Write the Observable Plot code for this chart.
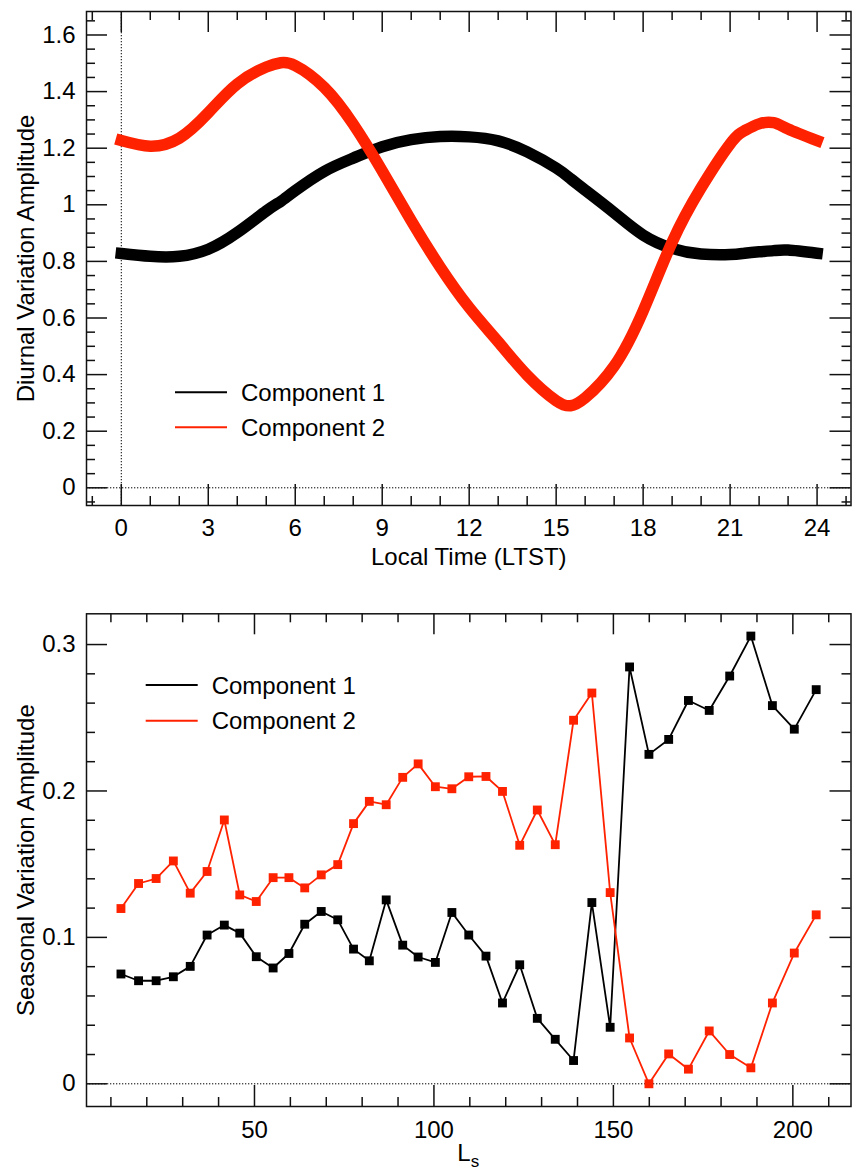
<!DOCTYPE html>
<html><head><meta charset="utf-8">
<script src="https://cdn.jsdelivr.net/npm/d3@7"></script>
<script src="https://cdn.jsdelivr.net/npm/@observablehq/plot@0.6"></script>
<style>
body{margin:0;background:#fff;}
#chart{width:852px;}
#chart svg{display:block;}
</style></head><body><div id="chart"></div>
<script>
// ---------- Data: top panel (diurnal) ----------
const hours = [0,1,2,3,4,5,5.5,6,7,8,9,10,11,12,13,14,15,15.5,16,17,18,19,20,21,21.5,22,22.5,23,24];
const diurnalC1 = [0.828,0.818,0.818,0.843,0.902,0.978,1.012,1.050,1.118,1.165,1.205,1.230,1.241,1.240,1.226,1.187,1.130,1.092,1.052,0.972,0.893,0.846,0.826,0.824,0.829,0.834,0.838,0.840,0.829];
const diurnalC2 = [1.227,1.207,1.235,1.325,1.427,1.487,1.502,1.492,1.415,1.285,1.120,0.944,0.780,0.637,0.516,0.398,0.308,0.290,0.318,0.430,0.625,0.868,1.060,1.215,1.262,1.286,1.290,1.268,1.227];
const hourTicks = [0,3,6,9,12,15,18,21,24];
const diurnalTicks = [0,0.2,0.4,0.6,0.8,1,1.2,1.4,1.6];

// ---------- Data: bottom panel (seasonal) ----------
const ls = [12.8,17.7,22.6,27.4,32.1,36.8,41.6,45.9,50.5,55.2,59.6,64.0,68.6,73.2,77.6,82.0,86.7,91.3,95.6,100.4,105.0,109.7,114.5,119.1,123.9,128.8,133.8,138.9,144.0,149.1,154.5,159.9,165.4,170.9,176.7,182.4,188.3,194.3,200.4,206.5];
const seasonalC1 = [0.075,0.0704,0.0704,0.0731,0.0802,0.1016,0.1084,0.1029,0.0868,0.0791,0.089,0.109,0.1177,0.112,0.092,0.084,0.1256,0.0947,0.0866,0.0829,0.117,0.1016,0.0872,0.0552,0.0813,0.0447,0.0304,0.0159,0.1238,0.0386,0.2847,0.225,0.2352,0.2618,0.255,0.2785,0.3058,0.2583,0.2422,0.2692];
const seasonalC2 = [0.1197,0.1368,0.1402,0.1522,0.1302,0.145,0.1802,0.129,0.1245,0.1408,0.1408,0.1338,0.1427,0.1497,0.1777,0.1929,0.1906,0.2093,0.2185,0.2029,0.2015,0.2097,0.2099,0.1997,0.1629,0.187,0.1633,0.2483,0.2669,0.1306,0.0313,0.0,0.0204,0.01,0.0361,0.02,0.0109,0.0552,0.0893,0.1154];
const lsTicks = [50,100,150,200];
const seasonalTicks = [0,0.1,0.2,0.3];

const seriesNames = ["Component 1","Component 2"];
const seriesColors = ["#000000","#ff2200"];

const FONT = "'Liberation Sans', Arial, Helvetica, sans-serif";
const W = 852;

function inwardTicks(xMaj, xMin, yMaj, yMin, FW, FH) {
  const s = {stroke: "#111", strokeWidth: 1.5};
  return [
    Plot.tickX(xMaj, {...s, insetTop: FH - 21}),
    Plot.tickX(xMaj, {...s, insetBottom: FH - 21}),
    Plot.tickX(xMin, {...s, insetTop: FH - 9}),
    Plot.tickX(xMin, {...s, insetBottom: FH - 9}),
    Plot.tickY(yMaj, {...s, insetRight: FW - 21}),
    Plot.tickY(yMaj, {...s, insetLeft: FW - 21}),
    Plot.tickY(yMin, {...s, insetRight: FW - 9}),
    Plot.tickY(yMin, {...s, insetLeft: FW - 9})
  ];
}
const fmt = d => d3.format("~g")(d);

function addLegend(svg, x0, y0, gap) {
  const g = d3.select(svg).append("g").attr("font-family", FONT).attr("font-size", 24)
    .attr("text-anchor", "start");
  seriesNames.forEach((name, i) => {
    const y = y0 + i * gap;
    g.append("line").attr("x1", x0).attr("x2", x0 + 52).attr("y1", y).attr("y2", y)
      .attr("stroke", seriesColors[i]).attr("stroke-width", 2);
    g.append("text").attr("x", x0 + 66).attr("y", y + 8.5).attr("fill", "#000")
      .attr("text-anchor", "start").text(name);
  });
}

// ---------- Top panel ----------
const H1 = 590, mT1 = 11, mB1 = 85, mL = 86, mR = 1.5;
const FW = W - mL - mR, FH1 = H1 - mT1 - mB1;
const topChart = Plot.plot({
  width: W, height: H1, marginLeft: mL, marginRight: mR, marginTop: mT1, marginBottom: mB1,
  style: {fontFamily: FONT, fontSize: "24px", background: "white", color: "#000", overflow: "visible"},
  x: {domain: [-1.2, 25.17]},
  y: {domain: [-0.0625, 1.683]},
  marks: [
    Plot.ruleY([0], {stroke: "#000", strokeWidth: 1, strokeDasharray: "1.3,1.7"}),
    Plot.ruleX([0], {stroke: "#000", strokeWidth: 1, strokeDasharray: "1.3,1.7"}),
    Plot.line(hours, {x: d => d, y: (d, i) => diurnalC1[i], stroke: seriesColors[0], strokeWidth: 11.5, curve: "natural", strokeLinecap: "square"}),
    Plot.line(hours, {x: d => d, y: (d, i) => diurnalC2[i], stroke: seriesColors[1], strokeWidth: 11.5, curve: "natural", strokeLinecap: "square"}),
    ...inwardTicks(hourTicks, d3.range(-1, 26).filter(d => d % 3 !== 0),
      diurnalTicks, d3.range(-1, 34).filter(i => i % 4 !== 0).map(i => i * 0.05), FW, FH1),
    Plot.frame({stroke: "#111", strokeWidth: 1.5}),
    Plot.axisX(hourTicks, {tickSize: 0, tickPadding: 13, tickFormat: fmt, label: null}),
    Plot.axisY(diurnalTicks, {tickSize: 0, tickPadding: 11, tickFormat: fmt, label: null}),
    Plot.text(["Local Time (LTST)"], {frameAnchor: "bottom", dy: 59, lineAnchor: "bottom", textAnchor: "middle", fontSize: 24}),
    Plot.text(["Diurnal Variation Amplitude"], {frameAnchor: "left", dx: -53, rotate: -90, lineAnchor: "bottom", textAnchor: "middle", fontSize: 24})
  ]
});
addLegend(topChart, 175, 392.3, 35);
document.getElementById("chart").appendChild(topChart);

// ---------- Bottom panel ----------
const H2 = 582, mT2 = 23.3, mB2 = 66;
const FH2 = H2 - mT2 - mB2;
const rows = ls.map((x, i) => ({x, c1: seasonalC1[i], c2: seasonalC2[i]}));
const bottomChart = Plot.plot({
  width: W, height: H2, marginLeft: mL, marginRight: mR, marginTop: mT2, marginBottom: mB2,
  style: {fontFamily: FONT, fontSize: "24px", background: "white", color: "#000", overflow: "visible"},
  x: {domain: [3.2, 216.2]},
  y: {domain: [-0.0155, 0.321]},
  marks: [
    Plot.ruleY([0], {stroke: "#000", strokeWidth: 1, strokeDasharray: "1.3,1.7"}),
    Plot.line(rows, {x: "x", y: "c1", stroke: seriesColors[0], strokeWidth: 1.8}),
    Plot.line(rows, {x: "x", y: "c2", stroke: seriesColors[1], strokeWidth: 1.8}),
    Plot.dot(rows, {x: "x", y: "c1", symbol: "square", r: 5, fill: seriesColors[0], stroke: null}),
    Plot.dot(rows, {x: "x", y: "c2", symbol: "square", r: 5, fill: seriesColors[1], stroke: null}),
    ...inwardTicks(lsTicks, d3.range(10, 220, 10).filter(d => d % 50 !== 0),
      seasonalTicks, d3.range(1, 15).filter(i => i % 5 !== 0).map(i => i * 0.02), FW, FH2),
    Plot.frame({stroke: "#111", strokeWidth: 1.5}),
    Plot.axisX(lsTicks, {tickSize: 0, tickPadding: 14, tickFormat: fmt, label: null}),
    Plot.axisY(seasonalTicks, {tickSize: 0, tickPadding: 11, tickFormat: fmt, label: null}),
    Plot.text(["Seasonal Variation Amplitude"], {frameAnchor: "left", dx: -53, rotate: -90, lineAnchor: "bottom", textAnchor: "middle", fontSize: 24})
  ]
});
addLegend(bottomChart, 145.7, 685 - 590, 35.7);
// x-axis title L with subscript s
{
  const t = d3.select(bottomChart).append("text")
    .attr("x", mL + FW / 2).attr("y", 1161 - 590).attr("text-anchor", "middle")
    .attr("font-family", FONT).attr("font-size", 24).attr("fill", "#000");
  t.append("tspan").text("L");
  t.append("tspan").attr("dy", 6).attr("font-size", 17).text("s");
}
document.getElementById("chart").appendChild(bottomChart);
</script>
</body></html>
